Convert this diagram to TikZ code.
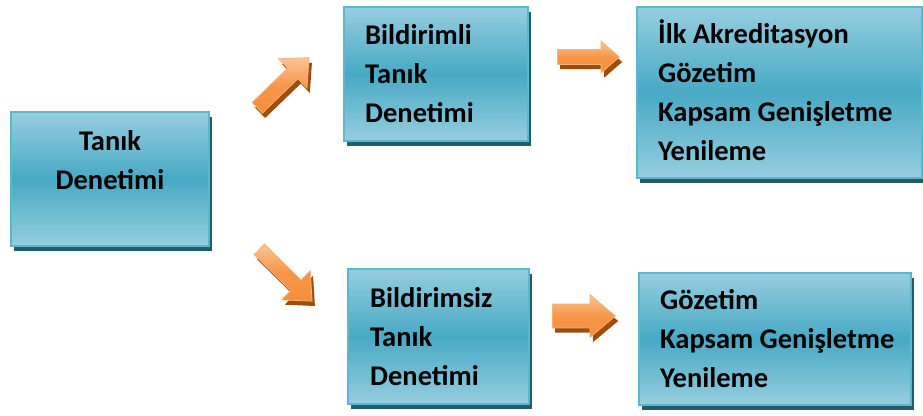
\documentclass[tikz,border=0pt]{standalone}
\usepackage{fontspec}
\setmainfont{Carlito}
\usetikzlibrary{shapes.arrows}
\definecolor{boxlight}{HTML}{96CEDE}
\definecolor{boxdark}{HTML}{48A9C5}
\definecolor{boxborder}{HTML}{5BB6D0}
\definecolor{boxshade}{HTML}{245C6A}
\definecolor{arrlight}{HTML}{FBC594}
\definecolor{arrdark}{HTML}{F58E3C}
\definecolor{arrborder}{HTML}{F8B27A}
\definecolor{arrshade}{HTML}{A04C0A}
\tikzset{
  boxshadow/.style={fill=boxshade, draw=none, inner sep=0pt, anchor=north west},
  boxmain/.style={draw=boxborder, line width=1.8pt, top color=boxlight, bottom color=boxlight, middle color=boxdark, inner sep=0pt, anchor=north west},
  lbl/.style={font=\fontsize{28.5}{38.7}\selectfont\bfseries, inner sep=0pt, align=left, anchor=base west},
  barrowbase/.style={single arrow, inner xsep=0pt, single arrow tip angle=84, anchor=tail},
  barrowshadow/.style={barrowbase, fill=arrshade, draw=none},
  barrowmain/.style={barrowbase, draw=arrborder, line width=0.8pt, top color=arrlight, bottom color=arrdark, middle color=arrdark!85!arrlight}
}
\begin{document}
\begin{tikzpicture}[x=1pt,y=-1pt]
\useasboundingbox (0,0) rectangle (923,415);
% shadows of boxes
\node[boxshadow, minimum width=198pt, minimum height=134pt] (As) at (14,117) {};
\node[boxshadow, minimum width=184pt, minimum height=134pt] (Bs) at (347,12) {};
\node[boxshadow, minimum width=285pt, minimum height=171pt] (Cs) at (640,12) {};
\node[boxshadow, minimum width=181pt, minimum height=135pt] (Ds) at (351,274) {};
\node[boxshadow, minimum width=272pt, minimum height=132pt] (Es) at (642,278) {};
% boxes
\node[boxmain, minimum width=198pt, minimum height=134pt] (A) at (10,111) {};
\node[boxmain, minimum width=184pt, minimum height=134pt] (B) at (343,6) {};
\node[boxmain, minimum width=285pt, minimum height=171pt] (C) at (636,6) {};
\node[boxmain, minimum width=181pt, minimum height=135pt] (D) at (347,268) {};
\node[boxmain, minimum width=272pt, minimum height=132pt] (E) at (638,272) {};
% texts (anchored at the baseline of the last line)
\node[lbl, align=center, anchor=base] (tA) at (110,189) {Tanık\\Denetimi};
\node[lbl] (tB) at (365,122) {Bildirimli\\Tanık\\Denetimi};
\node[lbl] (tC) at (658,160) {İlk Akreditasyon\\Gözetim\\Kapsam Genişletme\\Yenileme};
\node[lbl] (tD) at (370,385) {Bildirimsiz\\Tanık\\Denetimi};
\node[lbl] (tE) at (660,387) {Gözetim\\Kapsam Genişletme\\Yenileme};
% arrow shadows
\node[barrowshadow, inner ysep=7pt, minimum height=72pt, single arrow head extend=13pt, rotate=44] (a1s) at (260,113) {};
\node[barrowshadow, inner ysep=7pt, minimum height=74pt, single arrow head extend=13pt, rotate=-44.5] (a2s) at (262,254) {};
\node[barrowshadow, inner ysep=7pt, minimum height=62pt, single arrow head extend=8.5pt, single arrow tip angle=82] (a3s) at (560,62) {};
\node[barrowshadow, inner ysep=11.5pt, minimum height=63pt, single arrow head extend=9.5pt, single arrow tip angle=80] (a4s) at (555,321) {};
% arrows
\node[barrowmain, inner ysep=7pt, minimum height=72pt, single arrow head extend=13pt, rotate=44] (a1) at (257,108) {};
\node[barrowmain, inner ysep=7pt, minimum height=74pt, single arrow head extend=13pt, rotate=-44.5] (a2) at (259,249) {};
\node[barrowmain, inner ysep=7pt, minimum height=62pt, single arrow head extend=8.5pt, single arrow tip angle=82] (a3) at (557,57) {};
\node[barrowmain, inner ysep=11.5pt, minimum height=63pt, single arrow head extend=9.5pt, single arrow tip angle=80] (a4) at (552,316) {};
\end{tikzpicture}
\end{document}
